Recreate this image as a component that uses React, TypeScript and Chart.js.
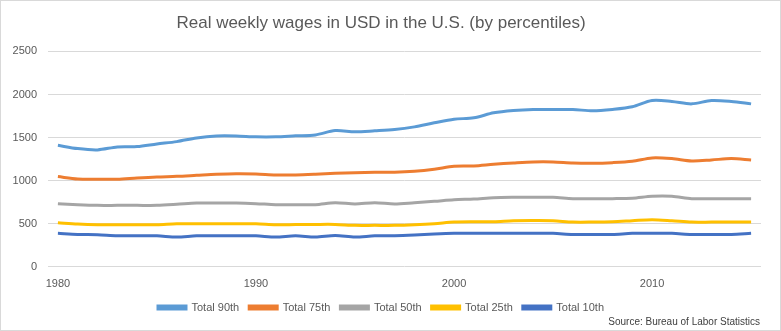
import React, { useEffect, useRef } from "react";
import { Chart, registerables } from "chart.js";

Chart.register(...registerables);

const years: string[] = [];
for (let y = 1980; y <= 2015; y++) years.push(String(y));

const p90 = [1410, 1372, 1357, 1391, 1395, 1426, 1453, 1496, 1519, 1519, 1508, 1508, 1520, 1531, 1581, 1566, 1578, 1593, 1624, 1671, 1713, 1729, 1787, 1814, 1826, 1826, 1826, 1810, 1826, 1857, 1930, 1919, 1891, 1930, 1919, 1891];
const p75 = [1047, 1019, 1016, 1016, 1031, 1043, 1050, 1062, 1074, 1081, 1078, 1066, 1066, 1074, 1085, 1093, 1097, 1097, 1108, 1132, 1167, 1171, 1190, 1205, 1217, 1217, 1205, 1202, 1209, 1225, 1264, 1256, 1229, 1240, 1256, 1240];
const p50 = [733, 721, 713, 713, 713, 713, 725, 740, 740, 740, 733, 721, 721, 721, 744, 729, 744, 729, 744, 760, 779, 787, 802, 806, 806, 806, 791, 791, 791, 795, 818, 818, 791, 791, 791, 791];
const p25 = [512, 496, 488, 488, 488, 488, 500, 500, 500, 500, 500, 488, 490, 492, 492, 481, 481, 481, 488, 500, 519, 523, 523, 535, 537, 535, 519, 519, 523, 535, 547, 535, 519, 519, 519, 519];
const p10 = [388, 376, 372, 360, 360, 360, 345, 360, 360, 360, 360, 345, 360, 345, 364, 345, 360, 360, 368, 380, 388, 388, 388, 388, 388, 388, 376, 376, 376, 388, 388, 388, 376, 376, 376, 388];

const seriesNames = ["Total 90th", "Total 75th", "Total 50th", "Total 25th", "Total 10th"];
const seriesColors = ["#5B9BD5", "#ED7D31", "#A5A5A5", "#FFC000", "#4472C4"];
const seriesData = [p90, p75, p50, p25, p10];
const sourceText = "Source: Bureau of Labor Statistics";

const FONT = "'Liberation Sans', Arial, sans-serif";

const sourcePlugin = {
  id: "sourceNote",
  afterDraw(chart: any) {
    const c = chart.ctx;
    c.save();
    c.font = `10px ${FONT}`;
    c.fillStyle = "#404040";
    c.textAlign = "right";
    c.textBaseline = "middle";
    c.fillText(sourceText, 759, 321);
    c.restore();
  },
};

export default function App() {
  const ref = useRef<HTMLCanvasElement | null>(null);
  useEffect(() => {
    document.body.style.margin = "0";
    const ctx = ref.current!;
    const chart = new Chart(ctx, {
      type: "line",
      data: {
        labels: years,
        datasets: seriesData.map((d, i) => ({
          label: seriesNames[i],
          data: d,
          borderColor: seriesColors[i],
          backgroundColor: seriesColors[i],
          borderWidth: 3,
          pointRadius: 0,
          tension: 0.3,
          fill: false,
        })),
      },
      plugins: [sourcePlugin],
      options: {
        animation: false,
        responsive: false,
        maintainAspectRatio: false,
        layout: { padding: { left: 0, right: 19, top: 8, bottom: 7 } },
        plugins: {
          title: {
            display: true,
            text: "Real weekly wages in USD in the U.S. (by percentiles)",
            color: "#595959",
            font: { family: FONT, size: 17, weight: "normal" },
            padding: { top: 4, bottom: 18 },
          },
          legend: {
            position: "bottom",
            labels: {
              color: "#595959",
              font: { family: FONT, size: 11 },
              boxWidth: 28,
              boxHeight: 3,
              padding: 10,
            },
          },
          tooltip: { enabled: false },
        },
        scales: {
          x: {
            offset: true,
            grid: { display: false },
            border: { display: false },
            afterFit: (s: any) => {
              s.height -= 2;
            },
            ticks: {
              autoSkip: false,
              maxRotation: 0,
              color: "#595959",
              font: { family: FONT, size: 11 },
              padding: 3,
              callback: (v: any, i: number) => (Number(years[i]) % 10 === 0 ? years[i] : ""),
            },
          },
          y: {
            min: 0,
            max: 2500,
            afterFit: (s: any) => {
              s.width = 47;
            },
            ticks: {
              stepSize: 500,
              color: "#595959",
              font: { family: FONT, size: 11 },
              padding: 11,
              callback: (v: any) => String(v),
            },
            grid: { color: "#D9D9D9", drawTicks: false },
            border: { display: false },
          },
        },
      },
    });
    return () => chart.destroy();
  }, []);
  return (
    <div style={{ width: 781, height: 331, boxSizing: "border-box", border: "1px solid #D9D9D9", background: "#fff" }}>
      <canvas ref={ref} width={779} height={329} style={{ display: "block" }} />
    </div>
  );
}
